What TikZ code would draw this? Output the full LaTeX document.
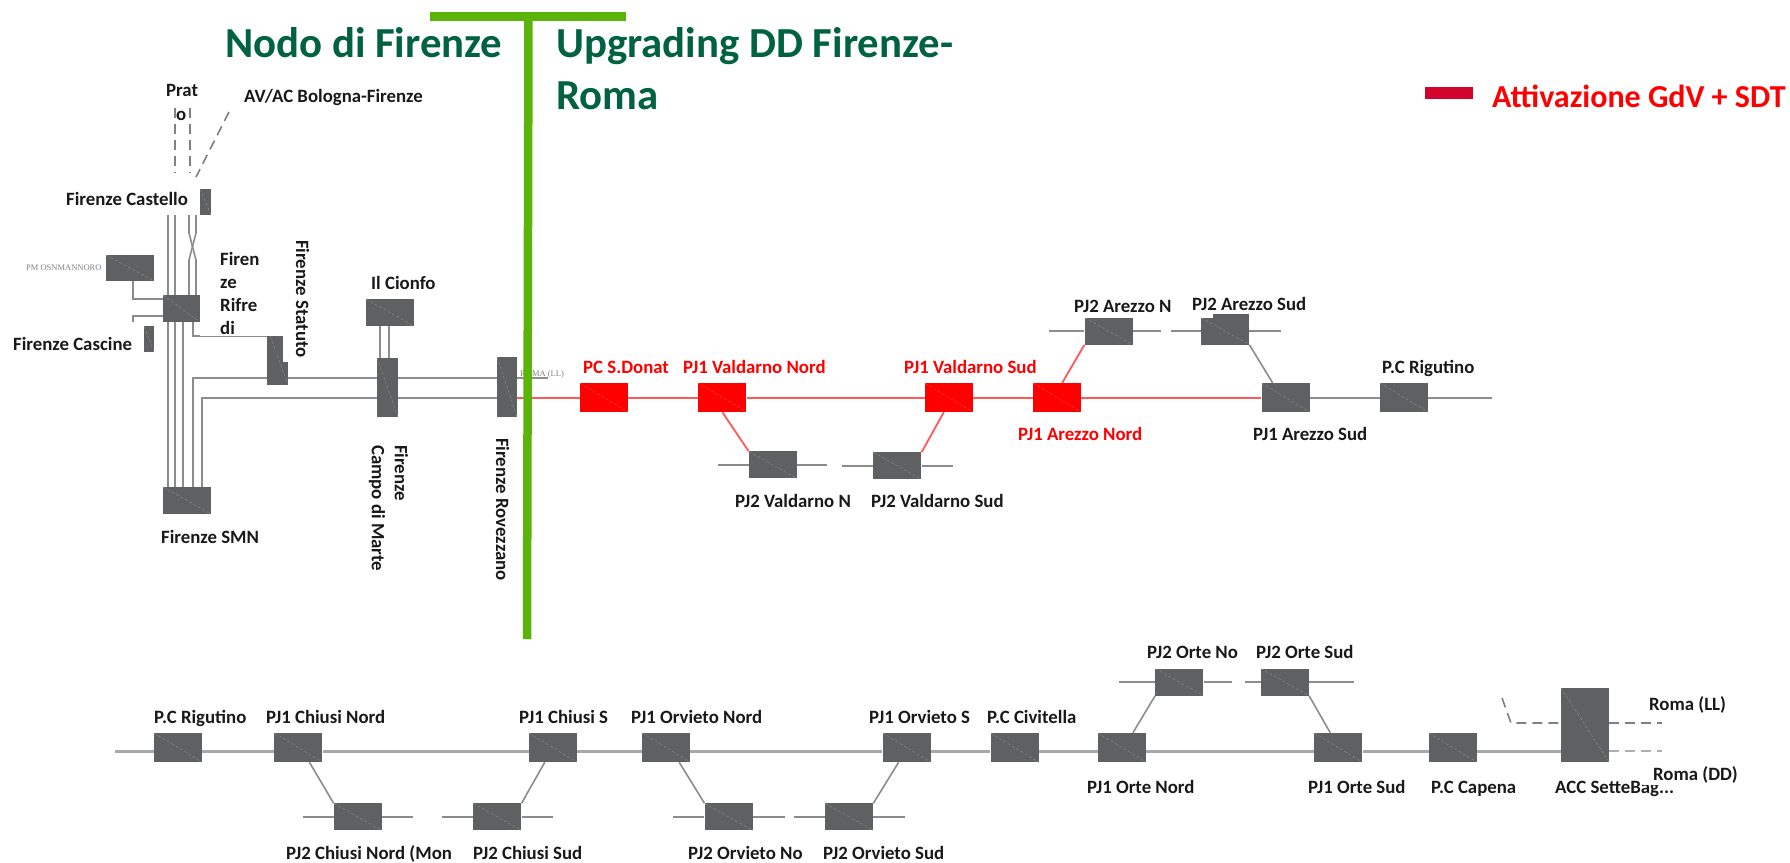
\documentclass[tikz,border=0pt]{standalone}
\usepackage{fontspec}
\setmainfont{Carlito}
\newfontfamily\srffont{Liberation Serif}
\usepackage{xcolor}
\definecolor{stngray}{HTML}{5F6062}
\definecolor{trackgray}{HTML}{8C8C8C}
\definecolor{rowgray}{HTML}{A8A8A8}
\definecolor{teegreen}{HTML}{5AB40A}
\definecolor{titlegreen}{HTML}{006241}
\definecolor{legendred}{HTML}{D2042D}
\usetikzlibrary{positioning}

\begin{document}
\begin{tikzpicture}[
    x=1pt, y=-1pt,
    stn/.style={rectangle, fill=#1, inner sep=0pt, minimum width=48pt, minimum height=29pt,
                path picture={\draw[white, opacity=.3, densely dashed, line width=.4pt]
                  (path picture bounding box.north west) -- (path picture bounding box.south east);}},
    stn/.default=stngray,
    low/.style={stn, minimum height=27pt},
    track/.style={draw=trackgray, line width=1.6pt},
    rowtrack/.style={draw=rowgray, line width=3pt},
    redtrack/.style={draw=red!65, line width=1.8pt},
    dashtrack/.style={draw=stngray!80, line width=1.6pt, dash pattern=on 10pt off 6pt},
    lbl/.style={font=\fontsize{18.8}{23}\selectfont\bfseries, inner sep=0pt, anchor=base west, text=black!90},
    rlbl/.style={lbl, text=red},
    tiny/.style={font=\fontsize{8.5}{10}\selectfont\srffont, inner sep=0pt, anchor=base west, text=gray},
    ttl/.style={font=\fontsize{42.8}{52}\selectfont\bfseries, inner sep=0pt, text=titlegreen, align=left},
    tee/.style={draw=teegreen}
  ]
    \useasboundingbox (0,0) rectangle (1790,862);

    % Nodo di Firenze
    \node[stn, minimum width=11pt, minimum height=26pt] (cast) at (205.5,202) {};
    \node[stn, minimum height=26pt] (osm) at (130,268) {};
    \node[stn, minimum width=37pt, minimum height=27pt] (rif) at (181.5,308.5) {};
    \node[stn, minimum width=10pt, minimum height=26pt] (cas) at (149,339) {};
    \node[stn, minimum width=21pt, minimum height=58pt] (sta) at (277.5,356) {};
    \node[stn, minimum height=27pt] (cio) at (390,312.5) {};
    \node[stn, minimum width=21pt, minimum height=59pt] (cam) at (387.5,387.5) {};
    \node[stn, minimum width=20pt, minimum height=60pt] (rov) at (507,387) {};
    \node[stn, minimum height=27pt] (smn) at (187,500.5) {};

    \coordinate (pa) at (175,108); \coordinate (pb) at (175,173);
    \coordinate (pc) at (190,108); \coordinate (pd) at (190,173);
    \coordinate (ava) at (229,112); \coordinate (avb) at (196,177);
    \draw[dashtrack] (pa) -- (pb);
    \draw[dashtrack] (pc) -- (pd);
    \draw[dashtrack] (ava) -- (avb);

    \coordinate (t1) at (168,215); \coordinate (t2) at (175,215);
    \coordinate (t3) at (189,215); \coordinate (t4) at (196,215);
    \coordinate (t5) at (183,322);
    \coordinate (xa) at (189,233); \coordinate (xb) at (196,260);
    \coordinate (xc) at (196,233); \coordinate (xd) at (189,260);
    \draw[track] (t1) -- (t1 |- rif.north);
    \draw[track] (t2) -- (t2 |- rif.north);
    \draw[track] (t3) -- (xa) -- (xb) -- (xb |- rif.north);
    \draw[track] (t4) -- (xc) -- (xd) -- (xd |- rif.north);
    \draw[track] (t1 |- rif.south) -- (t1 |- smn.north);
    \draw[track] (t2 |- rif.south) -- (t2 |- smn.north);
    \draw[track] (t5) -- (t5 |- smn.north);

    \coordinate (oa) at (133,299); \coordinate (ob) at (133,316); \coordinate (oc) at (133,322);
    \draw[track] (oa |- osm.south) -- (oa) -- (oa -| rif.west);
    \draw[track] (ob -| rif.west) -- (ob) -- (oc);
    \coordinate (sa) at (193,336);
    \draw[track] (sa |- rif.south) -- (sa) -- (sa -| sta.west);

    \coordinate (up) at (193,378); \coordinate (dn) at (202,398); \coordinate (upend) at (548,378);
    \draw[track] (up |- smn.north) -- (up) -- (up -| sta.west);
    \draw[track] (sta.east |- up) -- (up -| cam.west);
    \draw[track] (cam.east |- up) -- (up -| rov.west);
    \draw[track] (rov.east |- up) -- (upend);
    \draw[track] (dn |- smn.north) -- (dn) -- (dn -| cam.west);
    \draw[track] (cam.east |- dn) -- (dn -| rov.west);
    \coordinate (ca) at (380,326); \coordinate (cb) at (389,326);
    \draw[track] (ca) -- (ca |- cam.north);
    \draw[track] (cb) -- (cb |- cam.north);

    \node[lbl] (lprato) at (166,96) {Prat};
    \node[lbl] (lpratob) at (176,120) {o};
    \node[lbl] (lav) at (244,102) {AV/AC Bologna-Firenze};
    \node[lbl, fill=white, inner sep=2pt] (lcast) at (64,205) {Firenze Castello};
    \node[lbl, fill=white, anchor=west, align=left, text width=44pt, inner xsep=20pt,
          minimum height=86pt] (lrif) at (200,293) {Firen\\ze\\Rifre\\di};
    \node[lbl, rotate=-90, fill=white, inner xsep=4pt, inner ysep=13pt] (lsta) at (296,236) {Firenze Statuto};
    \node[tiny] (losm) at (26,270) {PM OSNMANNORO};
    \node[lbl] (lcas) at (13,350) {Firenze Cascine};
    \node[lbl] (lcio) at (371,289) {Il Cionfo};
    \node[lbl] (lsmn) at (161,543) {Firenze SMN};
    \node[lbl, rotate=-90, anchor=west, align=left] (lcam) at (388.5,445) {Firenze\\Campo di Marte};
    \node[lbl, rotate=-90] (lrov) at (496,438) {Firenze Rovezzano};
    \node[tiny] (lroma) at (520,376) {ROMA (LL)};

    % Upgrading DD Firenze-Roma
    \node[stn=red] (sdo) at (604,397.5) {};
    \node[stn=red, right=70pt of sdo] (vn) {};
    \node[stn=red, right=178pt of vn] (vs) {};
    \node[stn=red, right=60pt of vs] (an) {};
    \node[stn, right=180pt of an] (as) {};
    \node[stn, right=70pt of as] (rig) {};
    \node[low, below right=39pt and 2pt of vn] (vnb) {};
    \node[low, below left=40pt and 3pt of vs] (vsb) {};
    \node[low, above right=38pt and 3pt of an] (anb) {};
    \node[low, above left=38pt and 12pt of as] (asb) {};
    \node[fill=stngray, inner sep=0pt, minimum width=36pt, minimum height=3.5pt,
          anchor=south east] (asbt) at ([yshift=-.5pt]asb.north east) {};
    \coordinate (rigend) at (1492,398);

    \draw[redtrack] (rov.east |- dn) -- (dn -| sdo.west);
    \draw[redtrack] (sdo.east |- dn) -- (dn -| vn.west);
    \draw[redtrack] (vn.east |- dn) -- (dn -| vs.west);
    \draw[redtrack] (vs.east |- dn) -- (dn -| an.west);
    \draw[redtrack] (an.east |- dn) -- (dn -| as.west);
    \draw[track] (as.east |- dn) -- (dn -| rig.west);
    \draw[track] (rig.east |- dn) -- (rigend);
    \draw[redtrack] (vn.south) -- (vnb.north west);
    \draw[redtrack] ([xshift=-5pt]vs.south) -- (vsb.north east);
    \draw[redtrack] ([xshift=5pt]an.north) -- (anb.south west);
    \draw[track] (asb.south east) -- ([xshift=-13pt]as.north);

    \node[rlbl] (lsdo) at (583,373) {PC S.Donat};
    \node[rlbl] (lvn) at (683,373) {PJ1 Valdarno Nord};
    \node[rlbl] (lvs) at (904,373) {PJ1 Valdarno Sud};
    \node[rlbl] (lan) at (1018,440) {PJ1 Arezzo Nord};
    \node[lbl] (las) at (1253,440) {PJ1 Arezzo Sud};
    \node[lbl] (lrig) at (1382,373) {P.C Rigutino};
    \node[lbl] (lanb) at (1074,312) {PJ2 Arezzo N};
    \node[lbl] (lasb) at (1192,310) {PJ2 Arezzo Sud};
    \node[lbl] (lvnb) at (735,507) {PJ2 Valdarno N};
    \node[lbl] (lvsb) at (871,507) {PJ2 Valdarno Sud};

    % seconda riga
    \node[stn] (rigb) at (178,747.5) {};
    \node[stn, right=72pt of rigb] (cn) {};
    \node[stn, right=206pt of cn] (cs) {};
    \node[stn, right=65pt of cs] (on) {};
    \node[stn, right=192pt of on] (os) {};
    \node[stn, right=59.5pt of os] (civ) {};
    \node[stn, right=59pt of civ] (otn) {};
    \node[stn, right=168pt of otn] (ots) {};
    \node[stn, right=66pt of ots] (cap) {};
    \node[stn, minimum height=74pt] (acc) at (1585,725) {};
    \node[low, below right=41pt and 11pt of cn] (cnb) {};
    \node[low, below left=41pt and 7pt of cs] (csb) {};
    \node[low, below right=41pt and 14pt of on] (onb) {};
    \node[low, below left=41pt and 9pt of os] (osb) {};
    \node[low, above right=37pt and 9pt of otn] (otnb) {};
    \node[low, above left=37pt and 5pt of ots] (otsb) {};

    \coordinate (row) at (115,751);
    \draw[rowtrack] (row) -- (row -| rigb.west);
    \draw[rowtrack] (rigb.east |- row) -- (row -| cn.west);
    \draw[rowtrack] (cn.east |- row) -- (row -| cs.west);
    \draw[rowtrack] (cs.east |- row) -- (row -| on.west);
    \draw[rowtrack] (on.east |- row) -- (row -| os.west);
    \draw[rowtrack] (os.east |- row) -- (row -| civ.west);
    \draw[rowtrack] (civ.east |- row) -- (row -| otn.west);
    \draw[rowtrack] (otn.east |- row) -- (row -| ots.west);
    \draw[rowtrack] (ots.east |- row) -- (row -| cap.west);
    \draw[rowtrack] (cap.east |- row) -- (row -| acc.west);
    \draw[track] ([xshift=11pt]cn.south) -- (cnb.north west);
    \draw[track] ([xshift=-8pt]cs.south) -- (csb.north east);
    \draw[track] ([xshift=13pt]on.south) -- (onb.north west);
    \draw[track] ([xshift=-8pt]os.south) -- (osb.north east);
    \draw[track] ([xshift=11pt]otn.north) -- (otnb.south west);
    \draw[track] (otsb.south east) -- ([xshift=-8pt]ots.north);

    \foreach \st/\ll/\rr in {vnb/31/30, vsb/31/31, anb/35/28, asb/30/32, cnb/31/31, csb/31/31,
                             onb/31/32, osb/31/32, otnb/36/28, otsb/16/45}{
      \coordinate (\st l) at ([xshift=-\ll pt]\st.west);
      \coordinate (\st r) at ([xshift=\rr pt]\st.east);
      \draw[track] (\st l) -- (\st.west);
      \draw[track] (\st.east) -- (\st r);
    }

    \coordinate (acca) at (1502,698); \coordinate (accb) at (1511,723);
    \coordinate (rmll) at (1662,723); \coordinate (rmdd) at (1662,751);
    \draw[dashtrack] (acca) -- (accb) -- (accb -| acc.west);
    \draw[dashtrack] (acc.east |- rmll) -- (rmll);
    \draw[dashtrack, draw=stngray!50] (acc.east |- rmdd) -- (rmdd);

    \node[lbl] (lrigb) at (154,723) {P.C Rigutino};
    \node[lbl] (lcn) at (266,723) {PJ1 Chiusi Nord};
    \node[lbl] (lcs) at (519,723) {PJ1 Chiusi S};
    \node[lbl] (lon) at (631,723) {PJ1 Orvieto Nord};
    \node[lbl] (los) at (869,723) {PJ1 Orvieto S};
    \node[lbl] (lciv) at (987,723) {P.C Civitella};
    \node[lbl] (lotn) at (1087,793) {PJ1 Orte Nord};
    \node[lbl] (lots) at (1308,793) {PJ1 Orte Sud};
    \node[lbl] (lcap) at (1431,793) {P.C Capena};
    \node[lbl] (lacc) at (1555,793) {ACC SetteBag...};
    \node[lbl] (lcnb) at (286,859) {PJ2 Chiusi Nord (Mon};
    \node[lbl] (lcsb) at (473,859) {PJ2 Chiusi Sud};
    \node[lbl] (lonb) at (688,859) {PJ2 Orvieto No};
    \node[lbl] (losb) at (823,859) {PJ2 Orvieto Sud};
    \node[lbl] (lotnb) at (1147,658) {PJ2 Orte No};
    \node[lbl] (lotsb) at (1256,658) {PJ2 Orte Sud};
    \node[lbl] (lrll) at (1649,710) {Roma (LL)};
    \node[lbl, fill=white, inner xsep=10pt, inner ysep=2pt] (lrdd) at (1643,780) {Roma (DD)};

    % titoli
    \draw[tee, line width=9pt] (430,16.5) coordinate (teel) -- (626,16.5) coordinate (teer);
    \draw[tee, line width=8.5pt] (528.5,16) coordinate (teea) -- (527,639) coordinate (teeb);
    \node[ttl, anchor=west] (tnodo) at (225,43) {Nodo di Firenze};
    \node[ttl, anchor=west] (tupg) at (556,69) {Upgrading DD Firenze-\\Roma};
    \node[rectangle, fill=legendred, inner sep=0pt, minimum width=48pt, minimum height=12pt] (legbar) at (1449,93) {};
    \node[rlbl, font=\fontsize{32}{34}\selectfont\bfseries] (leg) at (1492,107) {Attivazione GdV + SDT};
  \end{tikzpicture}
\end{document}
